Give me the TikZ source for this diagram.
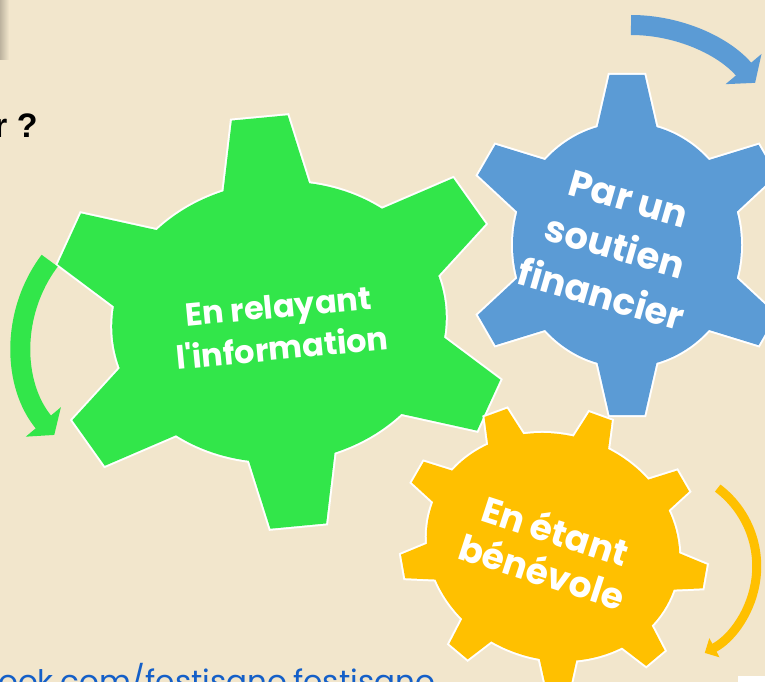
\documentclass[tikz,border=0pt]{standalone}
\usepackage{fontspec}
\setmainfont{Poppins}
\newfontfamily\arialfont{Liberation Sans}
\usetikzlibrary{arrows.meta}
\definecolor{paper}{RGB}{242,230,204}
\definecolor{gearGreen}{RGB}{50,230,74}
\definecolor{gearBlue}{RGB}{91,155,213}
\definecolor{gearYellow}{RGB}{255,192,0}
\definecolor{linkBlue}{RGB}{20,95,200}
\tikzset{gear edge/.style={draw=white,line width=4pt}}
\tikzset{gear label/.style={text=white,align=center,inner sep=0pt}}
\tikzset{spin/.style={line width=#1}}
% #1 options, #2/#3 body radii, #4 teeth, #5 first tooth, #6 tooth height, #7/#8 half widths (tip/foot)
\newcommand\gearshape[8]{%
  \path[#1] (0,0) ellipse [x radius=#2, y radius=#3];
  \foreach \k in {1,...,#4}{
    \pgfmathsetmacro\ang{#5+360*(\k-1)/#4}
    \pgfmathsetmacro\foot{#8+15*(#8-#7)/#6}
    \path[#1, shift={(\ang:#2 and #3)}, rotate=\ang]
      (-15,-\foot) -- (#6,-#7) -- (#6,#7) -- (-15,\foot) -- cycle;
  }}
\newcommand\gear[8]{%
  \gearshape{gear edge}{#2}{#3}{#4}{#5}{#6}{#7}{#8}
  \gearshape{fill=#1}{#2}{#3}{#4}{#5}{#6}{#7}{#8}}

\begin{document}
\begin{tikzpicture}[x=1pt,y=1pt]
    \useasboundingbox (0,0) rectangle (765,-682);
    \fill[paper] (0,0) rectangle (765,-682);
    \shade[left color=black!22!paper, right color=paper] (0,0) rectangle (9,-60);
    \fill[white] (738,-676) rectangle (765,-682);

    \node[anchor=base west, inner sep=0pt, font=\arialfont\bfseries\fontsize{34}{40}\selectfont] (question) at (-6,-137) {r ?};
    \node[anchor=base west, inner sep=0pt, text=linkBlue, font=\fontsize{31}{36}\selectfont] (link) at (-2,-692) {ook.com/festisano.festisano};

    \begin{scope}[shift={(279,-322)}, rotate=5.4]
      \gear{gearGreen}{167}{140}{6}{90}{65}{28}{42}
    \end{scope}
    \begin{scope}[shift={(627,-245)}]
      \gear{gearBlue}{114}{122}{6}{90}{48}{17.5}{28.5}
    \end{scope}
    \begin{scope}[shift={(553,-547)}, rotate=-20]
      \gear{gearYellow}{128}{112}{9}{10}{27}{12}{18}
    \end{scope}

    \node[gear label, rotate=5.4, font=\bfseries\fontsize{32}{42}\selectfont] (relay) at (280,-327) {En relayant\\l\textquotesingle information};
    \node[gear label, rotate=-16, font=\bfseries\fontsize{37}{50}\selectfont] (money) at (615,-247) {Par un\\soutien\\financier};
    \node[gear label, rotate=-18, font=\bfseries\fontsize{36}{43}\selectfont] (helper) at (549,-550) {En étant\\bénévole};

    \coordinate (greenTail) at (49.7,-260.7);
    \coordinate (blueTail) at (631,-25);
    \coordinate (yellowTail) at (717.7,-488.1);
    \draw[spin=20pt, gearGreen, -{Triangle[length=17pt,width=45pt]}] (greenTail) arc[start angle=143, end angle=220, radius=140];
    \draw[spin=20pt, gearBlue, -{Triangle[length=18pt,width=46pt]}] (blueTail) arc[start angle=90, end angle=40, radius=162];
    \draw[spin=9pt, gearYellow, -{Triangle[length=11pt,width=21pt]}] (yellowTail) arc[start angle=53, end angle=-62, radius=98];
  \end{tikzpicture}
\end{document}
